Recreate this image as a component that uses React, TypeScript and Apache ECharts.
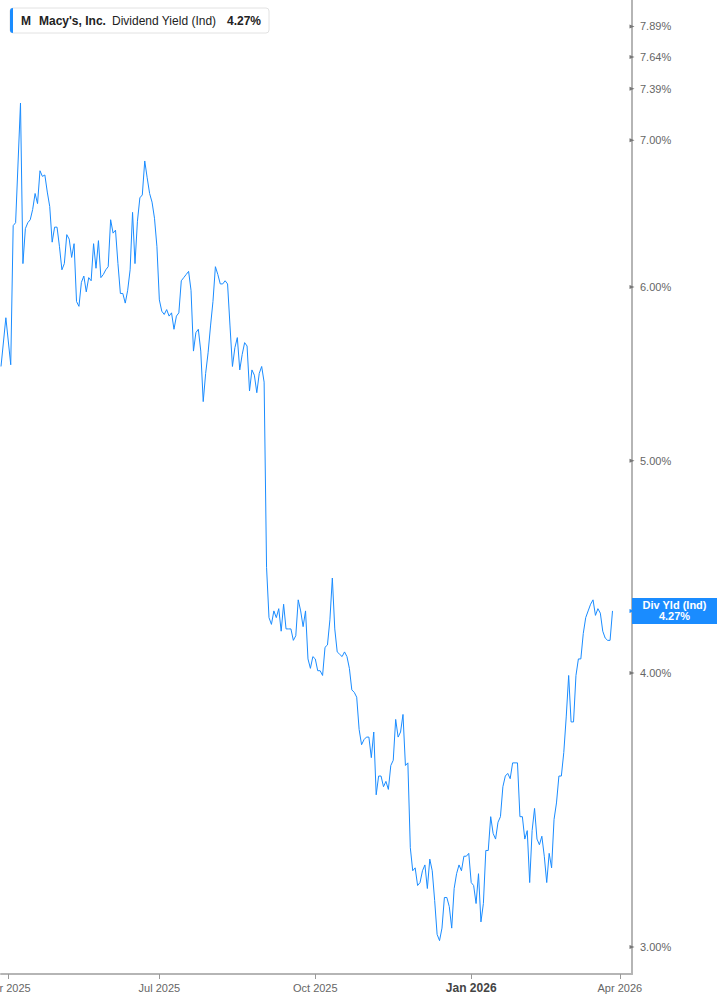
import React, { useEffect, useRef } from "react";
import * as echarts from "echarts";

// ---------- data ----------
const START_DATE = "2025-03-27";
const CATEGORY_COUNT = 260;
const HOLIDAYS = [
  "2025-04-18", "2025-05-26", "2025-06-19", "2025-07-04", "2025-09-01",
  "2025-11-27", "2025-12-25", "2026-01-01", "2026-01-19", "2026-02-16", "2026-04-03",
];
const QUARTER_DATES = ["2025-04-01", "2025-07-01", "2025-10-01", "2026-01-02", "2026-04-01"];
const QUARTER_LABELS = ["Apr 2025", "Jul 2025", "Oct 2025", "Jan 2026", "Apr 2026"];
const BOLD_LABELS = ["Jan 2026"];

// Dividend yield (%), one value per trading day from START_DATE (null = no visible vertex)
const YIELD_VALUES: (number | null)[] = [
  5.52, null, 5.81, null, 5.53, 6.40, 6.42, null, 7.28, 6.15,
  6.38, 6.42, 6.44, 6.51, 6.62, 6.55, 6.78, 6.74, 6.75, 6.63,
  6.53, 6.29, 6.39, 6.39, 6.26, 6.11, 6.15, 6.34, 6.31, 6.19,
  6.28, 5.91, 5.88, 6.03, 6.07, 5.97, 6.06, 6.04, 6.28, 6.12,
  6.30, 6.06, 6.08, 6.11, 6.13, 6.44, 6.35, 6.37, 6.15, 5.96,
  5.96, 5.90, 5.98, 6.11, 6.49, 6.15, 6.43, 6.59, 6.61, 6.85,
  6.73, 6.62, 6.56, 6.45, 6.26, 5.92, 5.85, 5.83, 5.86, 5.82,
  5.84, 5.74, 5.82, 5.84, 6.04, 6.06, 6.08, 6.10, 5.98, 5.61,
  5.72, 5.74, 5.61, 5.32, 5.48, 5.60, 5.76, 5.91, 6.13, 6.08,
  6.02, 6.02, 6.04, 6.02, 5.76, 5.52, 5.63, 5.69, 5.50, 5.59,
  5.66, 5.64, 5.38, 5.50, 5.47, 5.37, 5.48, 5.52, 5.43, 4.47,
  4.24, 4.21, 4.27, 4.24, 4.28, 4.18, 4.30, 4.19, 4.19, 4.19,
  4.14, 4.16, 4.32, 4.27, 4.20, 4.27, 4.06, 4.02, 4.07, 4.06,
  4.01, 4.01, 3.99, 4.11, 4.12, 4.23, 4.42, 4.19, 4.09, 4.08,
  4.07, 4.09, 4.07, 4.02, 3.93, 3.92, 3.90, 3.77, 3.71, 3.73,
  3.74, 3.74, 3.66, 3.76, 3.52, 3.59, 3.59, 3.55, 3.57, 3.54,
  3.63, 3.65, 3.81, 3.74, 3.76, 3.83, 3.63, 3.64, 3.33, 3.25,
  3.26, 3.20, 3.21, 3.25, 3.27, 3.19, 3.29, 3.25, 3.15, 3.04,
  3.02, 3.06, 3.16, 3.16, 3.13, 3.06, 3.19, 3.24, 3.27, 3.25,
  3.30, 3.30, 3.31, 3.21, 3.20, 3.14, 3.24, 3.08, 3.14, 3.32,
  3.32, 3.44, 3.38, 3.36, 3.42, 3.44, 3.55, 3.59, 3.60, 3.58,
  3.64, 3.64, 3.64, 3.44, 3.44, 3.36, 3.39, 3.21, 3.39, 3.47,
  3.36, 3.34, 3.37, 3.30, 3.21, 3.31, 3.26, 3.43, 3.49, 3.59,
  3.59, 3.68, 3.82, 3.99, 3.80, 3.80, 3.99, 4.06, 4.06, 4.17,
  4.24, 4.27, 4.30, 4.32, 4.25, 4.28, 4.26, 4.18, 4.15, 4.14,
  4.14, 4.27,
];

const Y_TICKS = [3.0, 4.0, 5.0, 6.0, 7.0, 7.39, 7.64, 7.89];
const Y_MIN = 2.916;
const Y_MAX = 8.112;

const TICKER = "M";
const COMPANY = "Macy's, Inc.";
const METRIC = "Dividend Yield (Ind)";
const BADGE_TITLE = "Div Yld (Ind)";

// ---------- helpers ----------
function tradingDays(start: string, count: number, holidays: string[]): string[] {
  const out: string[] = [];
  const d = new Date(start + "T00:00:00Z");
  while (out.length < count) {
    const day = d.getUTCDay();
    const iso = d.toISOString().slice(0, 10);
    if (day !== 0 && day !== 6 && holidays.indexOf(iso) < 0) out.push(iso);
    d.setUTCDate(d.getUTCDate() + 1);
  }
  return out;
}

const FONT = '"Liberation Sans", Arial, sans-serif';
const BLUE = "#1a8cff";
const AXIS_COLOR = "#b5b5b5";

export default function App() {
  const ref = useRef<HTMLDivElement>(null);

  useEffect(() => {
    if (!ref.current) return;
    const chart = echarts.init(ref.current, undefined, { renderer: "svg" });
    const dates = tradingDays(START_DATE, CATEGORY_COUNT, HOLIDAYS);
    const last = YIELD_VALUES[YIELD_VALUES.length - 1] as number;
    const lastStr = last.toFixed(2) + "%";
    const showQuarter = (_i: number, v: string) => QUARTER_DATES.indexOf(v) >= 0;

    const option: any = {
      animation: false,
      backgroundColor: "#ffffff",
      grid: {
        left: 1,
        right: 85,
        top: 0,
        bottom: 31,
        containLabel: false,
        outerBoundsMode: "none",
      },
      xAxis: {
        type: "category",
        data: dates,
        boundaryGap: false,
        axisLine: { show: true, lineStyle: { color: AXIS_COLOR, width: 2 } },
        axisTick: {
          show: true,
          interval: showQuarter,
          length: 5,
          lineStyle: { color: "#999", width: 1 },
        },
        axisLabel: {
          show: true,
          interval: showQuarter,
          margin: 8,
          color: "#666",
          fontSize: 11,
          fontFamily: FONT,
          hideOverlap: false,
          formatter: (v: string) => {
            const i = QUARTER_DATES.indexOf(v);
            if (i < 0) return "";
            const t = QUARTER_LABELS[i];
            return BOLD_LABELS.indexOf(t) >= 0 ? "{b|" + t + "}" : t;
          },
          rich: {
            b: { fontWeight: "bold", fontSize: 12, color: "#444", fontFamily: FONT },
          },
        },
        splitLine: { show: false },
      },
      yAxis: {
        type: "log",
        logBase: 10,
        min: Y_MIN,
        max: Y_MAX,
        position: "right",
        axisLine: { show: true, lineStyle: { color: AXIS_COLOR, width: 2 } },
        axisTick: { show: false },
        axisLabel: { show: false },
        splitLine: { show: false },
      },
      graphic: [
        {
          type: "rect",
          shape: { x: 10, y: 8, width: 259, height: 25, r: 3 },
          style: { fill: "#ffffff", stroke: "#e2e2e2", lineWidth: 1 },
        },
        {
          type: "rect",
          shape: { x: 10, y: 8, width: 3, height: 25, r: [3, 0, 0, 3] },
          style: { fill: BLUE },
        },
        {
          type: "text",
          x: 21,
          y: 21,
          style: { text: TICKER, font: "bold 12px " + FONT, fill: "#222", verticalAlign: "middle" },
        },
        {
          type: "text",
          x: 39,
          y: 21,
          style: { text: COMPANY, font: "bold 12px " + FONT, fill: "#222", verticalAlign: "middle" },
        },
        {
          type: "text",
          x: 112,
          y: 21,
          style: { text: METRIC, font: "12px " + FONT, fill: "#222", verticalAlign: "middle" },
        },
        {
          type: "text",
          x: 227,
          y: 21,
          style: { text: lastStr, font: "bold 12px " + FONT, fill: "#222", verticalAlign: "middle" },
        },
      ],
      series: [
        {
          type: "line",
          data: YIELD_VALUES,
          connectNulls: true,
          showSymbol: false,
          symbol: "none",
          clip: false,
          lineStyle: { color: BLUE, width: 1 },
          itemStyle: { color: BLUE },
          emphasis: { disabled: true },
          markLine: {
            silent: true,
            animation: false,
            symbol: ["none", "triangle"],
            symbolSize: [4, 5],
            lineStyle: { color: "#777", width: 0, type: "solid" },
            emphasis: { disabled: true },
            label: {
              show: true,
              position: "end",
              distance: 8,
              color: "#666",
              fontSize: 11,
              fontFamily: FONT,
              formatter: (p: any) => Number(p.value).toFixed(2) + "%",
            },
            data: [
              ...Y_TICKS.map((v) => ({ yAxis: v })),
              {
                yAxis: last,
                symbol: "none",
                lineStyle: { width: 0, color: BLUE },
                label: {
                  show: true,
                  position: "end",
                  distance: 0,
                  formatter: "{a|" + BADGE_TITLE + "}\n{a|" + lastStr + "}",
                  backgroundColor: BLUE,
                  padding: [2, 2, 2, 2],
                  rich: {
                    a: {
                      width: 81,
                      align: "center",
                      color: "#ffffff",
                      fontWeight: "bold",
                      fontSize: 11,
                      lineHeight: 11,
                      fontFamily: FONT,
                    },
                  },
                },
              },
            ],
          },
        },
      ],
    };

    chart.setOption(option);
    return () => chart.dispose();
  }, []);

  return (
    <div
      ref={ref}
      style={{ position: "fixed", left: 0, top: 0, width: 717, height: 1005, background: "#fff" }}
    />
  );
}
